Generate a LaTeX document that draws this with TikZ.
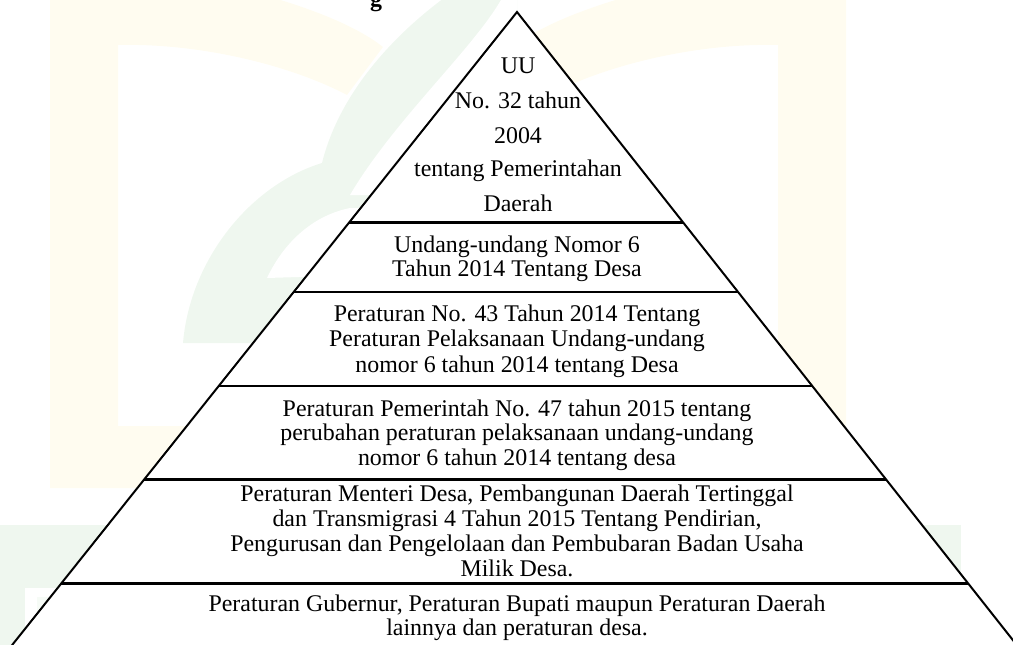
\documentclass[tikz,border=0pt]{standalone}
\usepackage{fontspec}
\setmainfont{Liberation Serif}
\usetikzlibrary{calc}
\definecolor{wmyellow}{RGB}{255,252,240}
\definecolor{wmgreen}{RGB}{239,247,239}
\definecolor{wmgreenlight}{RGB}{246,251,246}
\begin{document}
\begin{tikzpicture}[x=0.5021pt,y=-0.5021pt,
  txt/.style={font=\fontsize{12}{14}\selectfont, inner sep=0pt, anchor=base},
  head/.style={font=\fontsize{12}{14}\selectfont\bfseries, inner sep=0pt, anchor=base},
  side/.style={line width=1pt, line join=miter},
  tier/.style={line width=1.35pt}]
\useasboundingbox (0,0) rectangle (1013,644);

% faint logo in the background: book outline
\fill[wmyellow] (50,-60) -- (50,488) -- (300,488) -- (300,426) -- (118,426) -- (118,45)
  .. controls (200,43) and (290,65) .. (347,95) -- (383,47)
  .. controls (330,5) and (200,-25) .. (90,-40) -- (50,-40) -- cycle;
\fill[wmyellow] (846,-60) -- (846,488) -- (596,488) -- (596,426) -- (778,426) -- (778,45)
  .. controls (696,43) and (606,65) .. (549,95) -- (513,47)
  .. controls (566,5) and (696,-25) .. (806,-40) -- (846,-40) -- cycle;

% faint logo: leaf and base
\fill[wmgreen] (470,-20) .. controls (400,25) and (340,90) .. (322,163)
  .. controls (250,185) and (190,260) .. (183,343) -- (330,343) -- (517,12) -- (517,-20) -- cycle;
\fill[white] (510,-20) .. controls (495,30) and (400,110) .. (350,195) -- (420,195) -- (517,12) -- (517,-20) -- cycle;
\fill[white] (267,278) .. controls (285,240) and (315,215) .. (350,208) -- (420,208) -- (330,276) -- cycle;
\fill[wmgreen] (-10,525) rectangle (961,588);
\fill[wmgreen] (-10,588) rectangle (25,660);
\fill[wmgreenlight] (37,597) rectangle (57,660);

% heading line above the figure (only its descender shows)
\node[head] (heading) at (376,6) {g};

% pyramid outline
\coordinate (apex) at (517,12);
\coordinate (bl) at (0.2,660);
\coordinate (br) at (1028.6,660);
\filldraw[fill=white, side] (apex) -- (br) -- (bl) -- cycle;

% tier boundaries
\foreach \f [count=\i] in {0.3252,0.4319,0.5772,0.7211,0.8816} {
  \coordinate (L\i) at ($(apex)!\f!(bl)$);
  \coordinate (R\i) at ($(apex)!\f!(br)$);
  \draw[tier] (L\i) -- (R\i);
}

% tier 1
\node[txt] (t1a) at (518,73.3) {UU};
\node[txt] (t1b) at (518,108.3) {No. 32 tahun};
\node[txt] (t1c) at (518,143.3) {2004};
\node[txt] (t1d) at (518,176.7) {tentang Pemerintahan};
\node[txt] (t1e) at (518,211.7) {Daerah};

% tier 2
\node[txt] (t2a) at (517,252.3) {Undang-undang Nomor 6};
\node[txt] (t2b) at (517,276.7) {Tahun 2014 Tentang Desa};

% tier 3
\node[txt] (t3a) at (517,321.7) {Peraturan No. 43 Tahun 2014 Tentang};
\node[txt] (t3b) at (517,346.7) {Peraturan Pelaksanaan Undang-undang};
\node[txt] (t3c) at (517,372) {nomor 6 tahun 2014 tentang Desa};

% tier 4
\node[txt] (t4a) at (517,416.7) {Peraturan Pemerintah No. 47 tahun 2015 tentang};
\node[txt] (t4b) at (517,440) {perubahan peraturan pelaksanaan undang-undang};
\node[txt] (t4c) at (517,465) {nomor 6 tahun 2014 tentang desa};

% tier 5
\node[txt] (t5a) at (517,501.7) {Peraturan Menteri Desa, Pembangunan Daerah Tertinggal};
\node[txt] (t5b) at (517,526.7) {dan Transmigrasi 4 Tahun 2015 Tentang Pendirian,};
\node[txt] (t5c) at (517,551.7) {Pengurusan dan Pengelolaan dan Pembubaran Badan Usaha};
\node[txt] (t5d) at (517,576.7) {Milik Desa.};

% tier 6
\node[txt] (t6a) at (517,611.7) {Peraturan Gubernur, Peraturan Bupati maupun Peraturan Daerah};
\node[txt] (t6b) at (517,635) {lainnya dan peraturan desa.};
\end{tikzpicture}
\end{document}
